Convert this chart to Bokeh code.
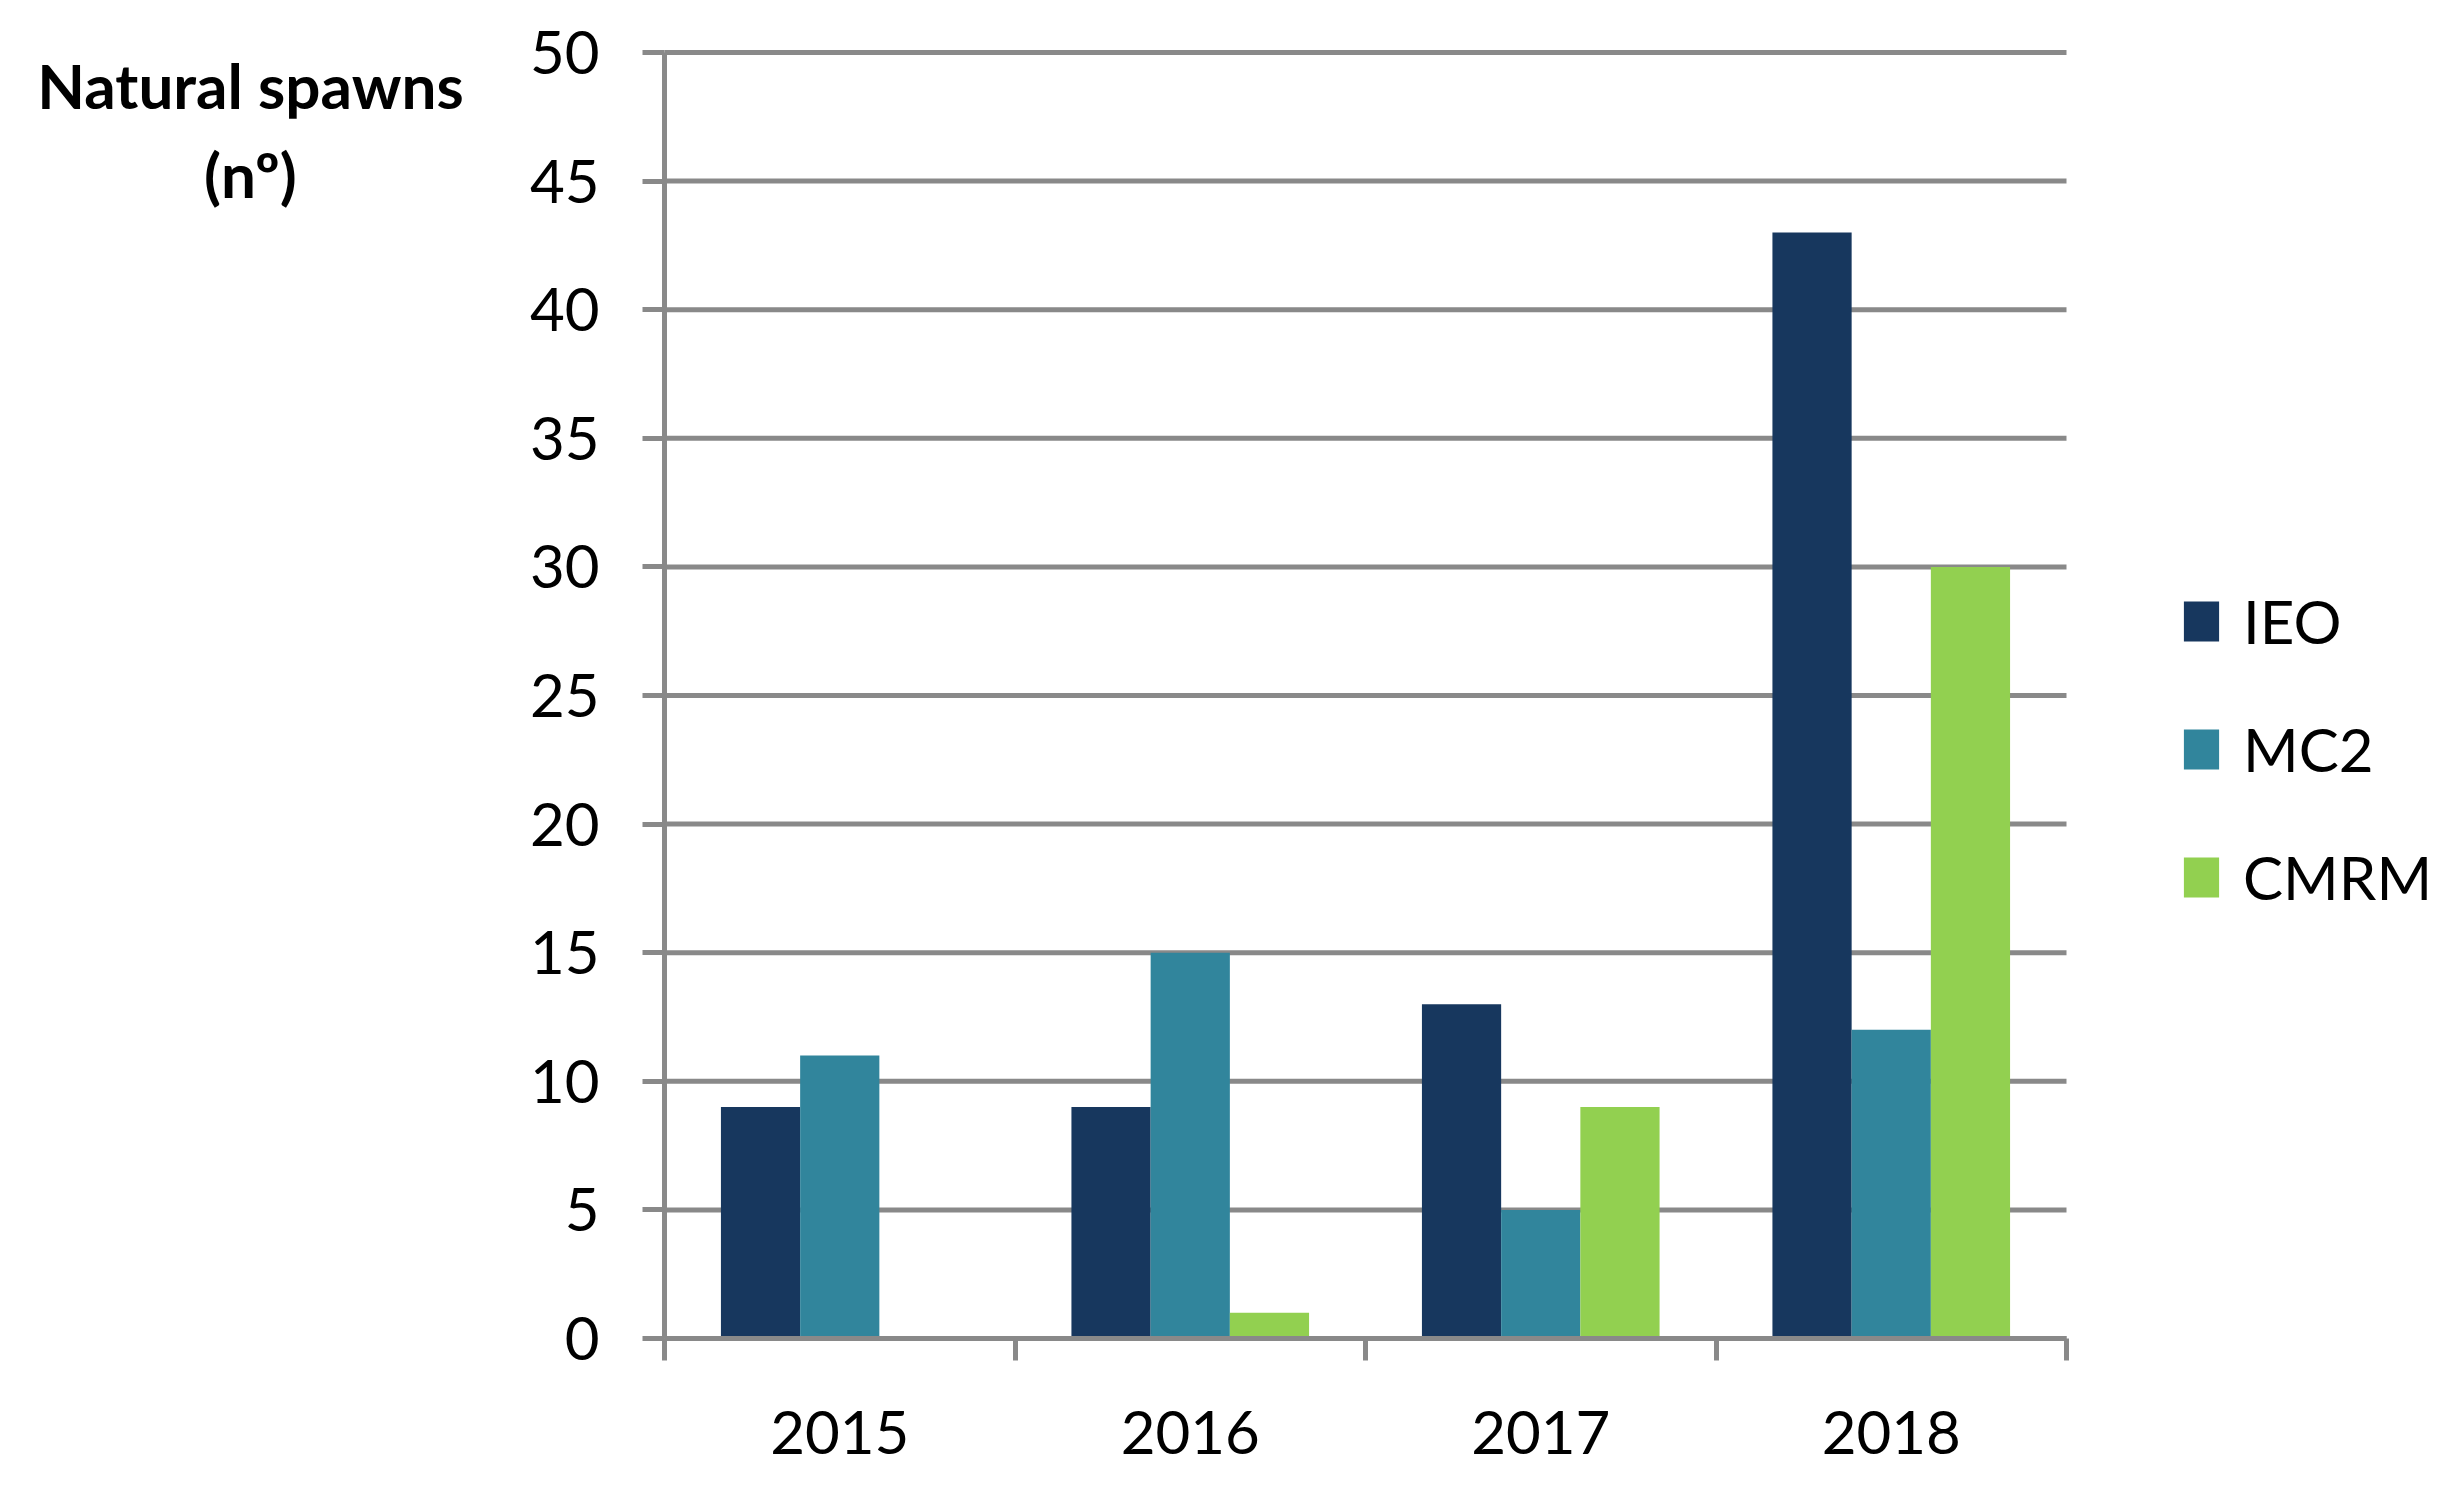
from bokeh.plotting import figure
from bokeh.models import FixedTicker, Label, Legend, LegendItem, Range1d, ColumnDataSource
from bokeh.embed import file_html
from bokeh.resources import INLINE
import numpy as np

years = ["2015", "2016", "2017", "2018"]
ieo = [9, 9, 13, 43]
mc2 = [11, 15, 5, 12]
cmrm = [0, 1, 9, 30]
series_names = ["IEO", "MC2", "CMRM"]
colors = ["#17375E", "#31859C", "#92D050"]
y_ticks = [0, 5, 10, 15, 20, 25, 30, 35, 40, 45, 50]
title_lines = ["Natural spawns", "(nº)"]

GRID = "#898989"
FONT = "Lato"

# geometry (pixels)
W, H = 2434, 1476
TOP = 20
AXIS_X = 664          # pixel x of the value axis
ZERO_Y = 1338         # pixel y of the zero line
TOP_Y = 52            # pixel y of the 50 line
CAT_PX = 350.5        # pixels per category
px_per_unit = (ZERO_Y - TOP_Y) / 50.0

x_start = -AXIS_X / CAT_PX
x_end = (W - AXIS_X) / CAT_PX
y_start = -(H - ZERO_Y) / px_per_unit
y_end = (ZERO_Y - TOP) / px_per_unit

p = figure(width=W, height=H, output_backend="svg", toolbar_location=None,
           title=None, x_range=Range1d(x_start, x_end), y_range=Range1d(y_start, y_end),
           min_border_left=0, min_border_right=0,
           min_border_top=TOP, min_border_bottom=0)
p.outline_line_color = None
p.background_fill_color = "white"
p.border_fill_color = "white"
p.xgrid.visible = False
p.ygrid.visible = False

n = len(years)
# horizontal gridlines over the category span only
p.segment(x0=[0] * len(y_ticks), x1=[n] * len(y_ticks), y0=y_ticks, y1=y_ticks,
          line_color=GRID, line_width=5, level="underlay")

centers = np.arange(n) + 0.5
bw = 0.226
renderers = []
for i, (name, vals, col) in enumerate(zip(series_names, [ieo, mc2, cmrm], colors)):
    src = ColumnDataSource(dict(x=centers + (i - 1) * bw, top=vals))
    r = p.vbar(x="x", top="top", bottom=0, width=bw, source=src,
               fill_color=col, line_color=None)
    renderers.append((name, r))

ya = p.yaxis[0]
ya.fixed_location = 0
ya.ticker = FixedTicker(ticks=y_ticks)
ya.bounds = (0, 50)
ya.axis_line_color = GRID
ya.axis_line_width = 5
ya.major_tick_line_color = GRID
ya.major_tick_line_width = 5
ya.major_tick_out = 22
ya.major_tick_in = 0
ya.minor_tick_line_color = None
ya.major_label_standoff = 43
ya.major_label_text_font = FONT
ya.major_label_text_font_size = "60px"
ya.major_label_text_color = "black"

xa = p.xaxis[0]
xa.fixed_location = 0
xa.ticker = FixedTicker(ticks=list(centers), minor_ticks=list(range(n + 1)))
xa.major_label_overrides = {float(c): y for c, y in zip(centers, years)}
xa.bounds = (0, n)
xa.axis_line_color = GRID
xa.axis_line_width = 5
xa.major_tick_line_color = None
xa.major_tick_out = 0
xa.major_tick_in = 0
xa.minor_tick_line_color = GRID
xa.minor_tick_line_width = 5
xa.minor_tick_out = 22
xa.minor_tick_in = 0
xa.major_label_standoff = 50
xa.major_label_text_font = FONT
xa.major_label_text_font_size = "60px"
xa.major_label_text_color = "black"

# axis title, horizontal at the top left
for txt, base_px in zip(title_lines, [84, 173]):
    p.add_layout(Label(x=(250 - AXIS_X) / CAT_PX, y=(ZERO_Y - base_px) / px_per_unit,
                       text=txt, text_font=FONT, text_font_style="bold",
                       text_font_size="62px", text_align="center",
                       text_baseline="alphabetic", text_color="black"))

legend = Legend(items=[LegendItem(label=nm, renderers=[r]) for nm, r in renderers],
                location=(2179, H - 913), orientation="vertical",
                glyph_width=44, glyph_height=50, label_height=72,
                label_standoff=20, spacing=56, padding=0, margin=0,
                border_line_color=None, background_fill_alpha=0,
                label_text_font=FONT, label_text_font_size="60px",
                label_text_color="black")
p.add_layout(legend, "center")

open("out.html", "w").write(file_html(p, INLINE))
